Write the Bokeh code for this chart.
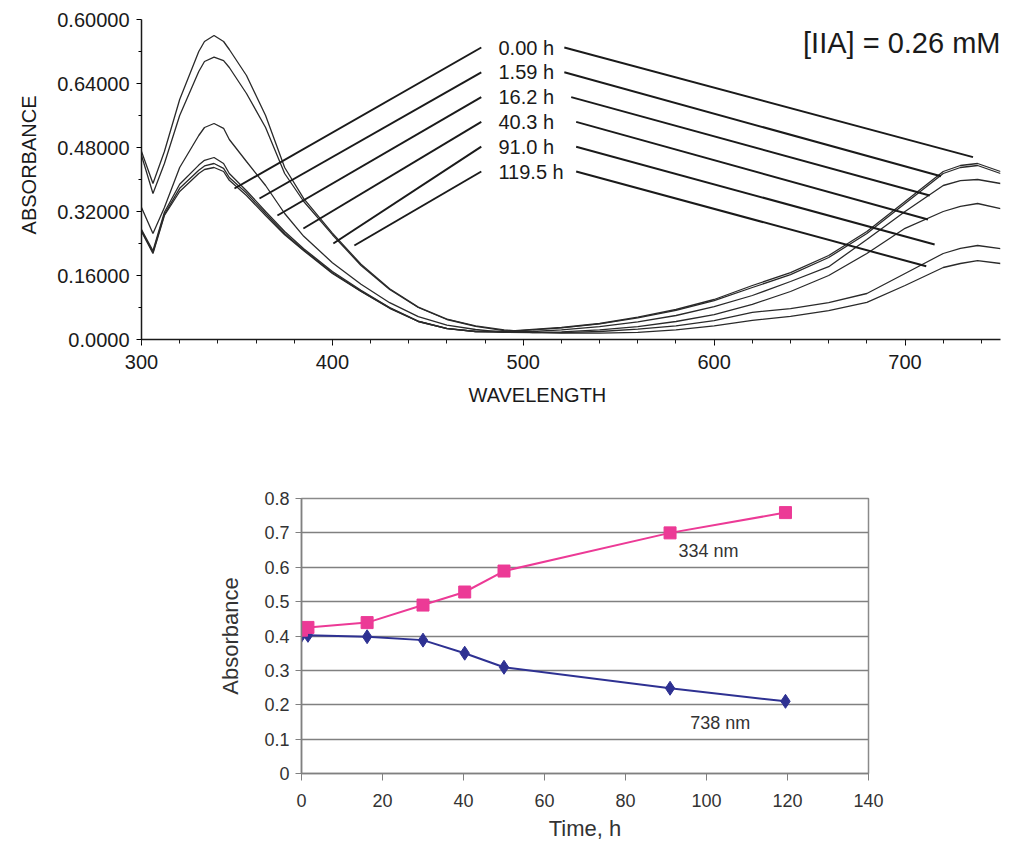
from bokeh.plotting import figure
from bokeh.models import Range1d, FixedTicker, Label, Title
from bokeh.embed import file_html
from bokeh.resources import INLINE

FONT = "Liberation Sans"

# ---------------- top panel data: UV-vis spectra ----------------
wavelength = [300, 306, 312, 320, 330, 333, 338, 343, 346, 355, 365, 375, 385, 400, 415, 430, 445, 460,
              475, 490, 505, 520, 540, 560, 580, 600, 620, 640, 660, 680, 700, 720, 729, 738, 750]

abs_0_00h = [0.270, 0.215, 0.310, 0.370, 0.415, 0.425, 0.430, 0.420, 0.398, 0.360, 0.310, 0.262, 0.222,
             0.165, 0.120, 0.078, 0.045, 0.027, 0.020, 0.020, 0.025, 0.030, 0.040, 0.056, 0.075, 0.100,
             0.135, 0.167, 0.210, 0.270, 0.345, 0.420, 0.435, 0.440, 0.420]
abs_1_59h = [0.272, 0.218, 0.313, 0.378, 0.423, 0.434, 0.440, 0.428, 0.405, 0.366, 0.315, 0.265, 0.224,
             0.167, 0.121, 0.079, 0.045, 0.027, 0.020, 0.020, 0.024, 0.029, 0.039, 0.054, 0.073, 0.097,
             0.130, 0.162, 0.205, 0.265, 0.340, 0.415, 0.430, 0.435, 0.415]
abs_16_2h = [0.275, 0.222, 0.318, 0.388, 0.436, 0.448, 0.455, 0.440, 0.415, 0.372, 0.320, 0.270, 0.227,
             0.170, 0.123, 0.080, 0.046, 0.028, 0.020, 0.018, 0.020, 0.024, 0.032, 0.044, 0.060, 0.082,
             0.110, 0.145, 0.182, 0.250, 0.320, 0.385, 0.397, 0.400, 0.390]
abs_40_3h = [0.330, 0.265, 0.330, 0.430, 0.510, 0.530, 0.540, 0.528, 0.500, 0.445, 0.385, 0.315, 0.258,
             0.192, 0.138, 0.092, 0.057, 0.036, 0.025, 0.018, 0.017, 0.019, 0.024, 0.032, 0.045, 0.062,
             0.088, 0.120, 0.160, 0.215, 0.278, 0.320, 0.333, 0.340, 0.327]
abs_91_0h = [0.460, 0.365, 0.440, 0.560, 0.670, 0.695, 0.706, 0.697, 0.680, 0.615, 0.530, 0.415, 0.345,
             0.262, 0.185, 0.125, 0.080, 0.050, 0.033, 0.022, 0.017, 0.017, 0.020, 0.026, 0.034, 0.047,
             0.068, 0.077, 0.092, 0.115, 0.165, 0.215, 0.228, 0.235, 0.227]
abs_119_5h = [0.470, 0.390, 0.470, 0.600, 0.720, 0.745, 0.760, 0.745, 0.725, 0.660, 0.560, 0.430, 0.352,
              0.266, 0.188, 0.127, 0.081, 0.051, 0.034, 0.024, 0.018, 0.016, 0.016, 0.018, 0.024, 0.034,
              0.048, 0.058, 0.072, 0.093, 0.135, 0.180, 0.190, 0.197, 0.190]

spectra = [abs_0_00h, abs_1_59h, abs_16_2h, abs_40_3h, abs_91_0h, abs_119_5h]
time_labels = ["0.00 h", "1.59 h", "16.2 h", "40.3 h", "91.0 h", "119.5 h"]

y_ticks_top = [0.0, 0.16, 0.32, 0.48, 0.64, 0.8]
y_tick_labels_top = ["0.0000", "0.16000", "0.32000", "0.48000", "0.64000", "0.60000"]
x_ticks_top = [300, 400, 500, 600, 700]

# leader line geometry (annotation positions, data units)
label_x = 487.0
label_y = [0.730, 0.668, 0.606, 0.544, 0.482, 0.420]
left_line_x0 = [478.0] * 6
left_line_x1 = [348.7, 361.8, 371.2, 384.8, 400.5, 411.5]
left_line_y1 = [0.3775, 0.3525, 0.310, 0.2775, 0.240, 0.235]
right_line_x0 = [521.5, 521.5, 525.1, 527.7, 527.7, 527.7]
right_line_x1 = [735.6, 718.8, 712.9, 712.0, 715.5, 711.1]
right_line_y1 = [0.456, 0.408, 0.360, 0.300, 0.2375, 0.183]

# ---------------- bottom panel data: kinetics ----------------
time_h = [0, 1.59, 16.2, 30, 40.3, 50, 91.0, 119.5]
abs_334nm = [0.417, 0.425, 0.439, 0.490, 0.528, 0.589, 0.700, 0.759]
abs_738nm = [0.402, 0.402, 0.398, 0.388, 0.350, 0.309, 0.248, 0.210]
x_ticks_bottom = [0, 20, 40, 60, 80, 100, 120, 140]
y_ticks_bottom = [0, 0.1, 0.2, 0.3, 0.4, 0.5, 0.6, 0.7, 0.8]

# ================= top figure =================
p1 = figure(width=1012, height=440, x_range=Range1d(300, 750), y_range=Range1d(0, 0.8),
            output_backend="svg", toolbar_location=None,
            min_border_left=140, min_border_right=12, min_border_top=19, min_border_bottom=101)
p1.outline_line_color = None
p1.xgrid.visible = False
p1.ygrid.visible = False

for ys in spectra:
    p1.line(wavelength, ys, line_color="#2a2a2a", line_width=1.3)

p1.segment(x0=left_line_x0, y0=label_y, x1=left_line_x1, y1=left_line_y1,
           line_color="#1a1a1a", line_width=2)
p1.segment(x0=right_line_x0, y0=label_y, x1=right_line_x1, y1=right_line_y1,
           line_color="#1a1a1a", line_width=2)

for t, yy in zip(time_labels, label_y):
    p1.add_layout(Label(x=label_x, y=yy, text=t, text_font=FONT, text_font_size="20px",
                        text_color="#1a1a1a", text_baseline="middle", text_align="left"))

p1.add_layout(Label(x=750, y=0.742, text="[IIA] = 0.26 mM", text_font=FONT,
                    text_font_size="29px", text_color="#1a1a1a",
                    text_baseline="middle", text_align="right"))

p1.add_layout(Title(text="WAVELENGTH", text_font=FONT, text_font_size="20px",
                    text_font_style="normal", text_color="#1a1a1a",
                    align="left", offset=327, standoff=21), "below")
p1.add_layout(Title(text="ABSORBANCE", text_font=FONT, text_font_size="20px",
                    text_font_style="normal", text_color="#1a1a1a",
                    align="right", offset=76, standoff=30), "left")

xa = p1.xaxis[0]
xa.ticker = FixedTicker(ticks=x_ticks_top, minor_ticks=list(range(300, 751, 20)))
xa.axis_line_color = "#1a1a1a"
xa.axis_line_width = 1.5
xa.major_tick_out = 6
xa.major_tick_in = 0
xa.minor_tick_out = 4
xa.minor_tick_in = 0
xa.minor_tick_line_color = "#1a1a1a"
xa.major_label_standoff = 9
xa.major_label_text_font = FONT
xa.major_label_text_font_size = "20px"
xa.major_label_text_color = "#1a1a1a"

ya = p1.yaxis[0]
ya.ticker = FixedTicker(ticks=y_ticks_top, minor_ticks=[0.08, 0.24, 0.40, 0.56, 0.72])
ya.major_label_overrides = {k: v for k, v in zip(y_ticks_top, y_tick_labels_top)}
ya.axis_line_color = "#1a1a1a"
ya.axis_line_width = 1.5
ya.major_tick_out = 5
ya.major_tick_in = 0
ya.minor_tick_out = 3
ya.minor_tick_in = 0
ya.major_label_standoff = 7
ya.major_label_text_font = FONT
ya.major_label_text_font_size = "20px"
ya.major_label_text_color = "#1a1a1a"

# ================= bottom figure =================
p2 = figure(width=1012, height=403, x_range=Range1d(0, 140), y_range=Range1d(0, 0.8),
            output_backend="svg", toolbar_location=None,
            min_border_left=301, min_border_right=144, min_border_top=58, min_border_bottom=69)
p2.outline_line_color = "#8a8a8a"
p2.outline_line_width = 1.5
p2.xgrid.visible = False
p2.ygrid.ticker = FixedTicker(ticks=y_ticks_bottom)
p2.ygrid.grid_line_color = "#808080"
p2.ygrid.grid_line_width = 1.5

PINK = "#EC3A96"
NAVY = "#2E3192"
p2.line(time_h, abs_738nm, line_color=NAVY, line_width=2)
p2.scatter(time_h, abs_738nm, marker="diamond", size=14, color=NAVY)
p2.line(time_h, abs_334nm, line_color=PINK, line_width=2)
p2.scatter(time_h, abs_334nm, marker="square", size=12, color=PINK)

p2.add_layout(Label(x=93.1, y=0.646, text="334 nm", text_font=FONT, text_font_size="18px",
                    text_color="#333333", text_baseline="middle", text_align="left"))
p2.add_layout(Label(x=96.0, y=0.146, text="738 nm", text_font=FONT, text_font_size="18px",
                    text_color="#333333", text_baseline="middle", text_align="left"))

bx = p2.xaxis[0]
bx.ticker = FixedTicker(ticks=x_ticks_bottom)
bx.axis_label = "Time, h"
bx.axis_label_text_font = FONT
bx.axis_label_text_font_size = "22px"
bx.axis_label_text_font_style = "normal"
bx.axis_label_text_color = "#333333"
bx.axis_label_standoff = 6
bx.axis_line_color = "#808080"
bx.axis_line_width = 1.5
bx.major_tick_line_color = "#808080"
bx.major_tick_out = 7
bx.major_tick_in = 0
bx.minor_tick_line_color = None
bx.major_label_standoff = 13
bx.major_label_text_font = FONT
bx.major_label_text_font_size = "18px"
bx.major_label_text_color = "#333333"

by = p2.yaxis[0]
by.ticker = FixedTicker(ticks=y_ticks_bottom)
by.major_label_overrides = {0: "0"}
by.axis_label = "Absorbance"
by.axis_label_text_font = FONT
by.axis_label_text_font_size = "22px"
by.axis_label_text_font_style = "normal"
by.axis_label_text_color = "#333333"
by.axis_label_standoff = 18
by.axis_line_color = "#808080"
by.axis_line_width = 1.5
by.major_tick_line_color = "#808080"
by.major_tick_out = 6
by.major_tick_in = 0
by.minor_tick_line_color = None
by.major_label_standoff = 6
by.major_label_text_font = FONT
by.major_label_text_font_size = "18px"
by.major_label_text_color = "#333333"

open("out.html", "w").write(file_html([p1, p2], INLINE))
